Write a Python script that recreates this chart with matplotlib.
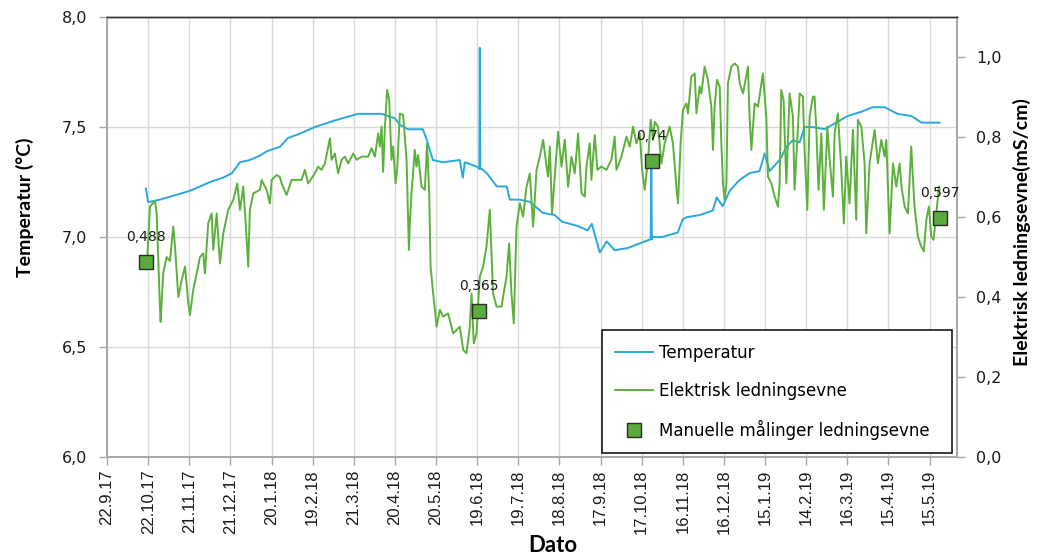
import matplotlib
matplotlib.use("Agg")
import matplotlib.pyplot as plt

# ---------------- data ----------------
# x positions = days after 22.9.2017
tick_labels = ["22.9.17", "22.10.17", "21.11.17", "21.12.17", "20.1.18", "19.2.18",
               "21.3.18", "20.4.18", "20.5.18", "19.6.18", "19.7.18", "18.8.18",
               "17.9.18", "17.10.18", "16.11.18", "16.12.18", "15.1.19", "14.2.19",
               "16.3.19", "15.4.19", "15.5.19"]
tick_days = [0, 30, 60, 90, 120, 150, 180, 210, 240, 270, 300, 330, 360, 390, 420,
             450, 480, 510, 540, 570, 600]

temp_days = [28.4, 29.9, 31.3, 38.6, 49.6, 60.5, 67.8, 75.1, 84.6, 91.1, 97.0, 104.2,
             111.5, 116.6, 126.1, 132.0, 140.7, 151.6, 166.2, 183.0, 191.7, 200.5,
             210.0, 213.6, 219.4, 230.4, 233.3, 237.7, 244.9, 257.3, 259.5, 261.0,
             269.7, 271.6, 271.9, 272.3, 273.4, 277.0, 284.3, 291.6, 293.8, 301.0,
             308.4, 317.8, 326.6, 331.7, 343.4, 350.6, 353.6, 359.4, 364.5, 370.3,
             379.8, 392.2, 396.6, 397.0, 397.4, 398.0, 404.6, 416.3, 419.9, 422.8,
             432.3, 441.8, 444.7, 449.1, 454.2, 461.5, 468.7, 476.0, 479.7, 483.3,
             490.6, 495.7, 500.1, 505.2, 508.8, 514.7, 523.4, 540.2, 550.4, 558.4,
             567.2, 576.6, 586.8, 594.1, 607.3]
temp_vals = [7.22, 7.16, 7.16, 7.17, 7.19, 7.21, 7.23, 7.25, 7.27, 7.29, 7.34, 7.35,
             7.37, 7.39, 7.41, 7.45, 7.47, 7.50, 7.53, 7.56, 7.56, 7.56,
             7.54, 7.51, 7.49, 7.49, 7.44, 7.35, 7.34, 7.35, 7.27, 7.34,
             7.32, 7.31, 7.86, 7.31, 7.31, 7.29, 7.23, 7.23, 7.17, 7.17,
             7.16, 7.11, 7.10, 7.07, 7.05, 7.03, 7.06, 6.93, 6.98, 6.94,
             6.95, 6.98, 6.99, 7.33, 6.99, 7.00, 7.00, 7.02, 7.08, 7.09,
             7.10, 7.12, 7.18, 7.14, 7.21, 7.26, 7.29, 7.30, 7.38, 7.30,
             7.35, 7.41, 7.44, 7.43, 7.50, 7.50, 7.49, 7.55, 7.57, 7.59,
             7.59, 7.56, 7.55, 7.52, 7.52]

cond_days = [29.4, 31.3, 35.0, 36.2, 38.6, 39.1, 41.0, 43.5, 45.9, 48.3, 49.6, 52.0,
             54.5, 56.9, 59.3, 60.5, 62.9, 65.4, 67.8, 70.2, 71.4, 73.8, 76.3, 77.5,
             80.0, 82.4, 84.8, 88.4, 92.1, 95.0, 97.0, 99.4, 101.3, 103.0, 104.2, 106.7,
             111.5, 112.8, 116.4, 118.8, 120.1, 123.7, 126.1, 127.4, 131.0, 134.6, 141.9,
             144.3, 146.7, 151.6, 154.0, 156.5, 158.9, 162.6, 163.8, 166.2, 168.6, 171.1,
             173.5, 175.9, 179.6, 182.0, 185.7, 190.5, 193.0, 195.4, 197.8, 199.0, 200.3,
             201.4, 202.7, 204.3, 205.8, 207.5, 208.7, 210.5, 211.6, 213.6, 216.0, 218.5,
             220.2, 220.9, 222.1, 224.5, 225.7, 226.9, 229.4, 231.8, 233.5, 235.0, 236.0,
             237.9, 240.4, 242.8, 245.2, 248.8, 252.5, 257.3, 259.8, 262.2, 264.6, 265.9,
             267.5, 269.5, 271.9, 274.3, 276.8, 279.2, 281.6, 284.1, 287.7, 291.4, 293.3,
             295.0, 296.7, 298.7, 301.1, 303.5, 306.0, 308.4, 310.8, 313.3, 315.7, 318.1,
             320.6, 321.7, 323.0, 324.6, 326.6, 329.0, 331.5, 333.9, 336.3, 338.8, 341.2,
             343.6, 346.1, 348.5, 349.7, 352.1, 353.3, 355.8, 357.7, 360.6, 364.3, 367.9,
             370.3, 371.6, 375.2, 378.9, 381.3, 383.7, 386.2, 388.6, 390.3, 392.2, 394.6,
             396.6, 398.3, 399.5, 401.9, 404.4, 406.8, 410.4, 412.8, 415.3, 416.5, 418.4,
             420.1, 422.6, 423.8, 426.2, 428.7, 429.9, 432.3, 433.5, 435.9, 438.3, 440.8,
             442.0, 443.2, 444.9, 446.9, 448.1, 449.3, 450.5, 451.8, 452.9, 455.4, 457.8,
             460.2, 461.5, 463.9, 467.5, 468.7, 470.0, 472.4, 474.8, 478.4, 480.9, 482.1,
             484.6, 487.0, 489.4, 490.6, 491.8, 493.5, 495.5, 497.9, 500.3, 501.5, 503.9,
             505.2, 507.6, 508.8, 510.8, 512.5, 514.9, 516.1, 517.4, 519.0, 521.0, 522.9,
             525.4, 527.1, 529.5, 530.7, 533.1, 535.6, 537.5, 539.2, 541.6, 544.1, 546.5,
             547.7, 550.2, 552.6, 553.8, 556.2, 559.9, 562.3, 564.8, 567.2, 568.4, 570.8,
             573.3, 575.7, 578.1, 579.8, 581.8, 584.2, 586.6, 589.0, 591.5, 593.9, 595.8,
             597.6, 599.5, 601.2, 602.9, 604.9, 606.8, 607.3]
cond_vals = [0.500, 0.626, 0.640, 0.610, 0.376, 0.338, 0.460, 0.500, 0.490, 0.576, 0.526, 0.400,
             0.443, 0.476, 0.384, 0.355, 0.418, 0.459, 0.500, 0.509, 0.459, 0.584, 0.609, 0.518,
             0.609, 0.484, 0.559, 0.618, 0.643, 0.684, 0.618, 0.676, 0.576, 0.476, 0.618, 0.659,
             0.668, 0.693, 0.668, 0.634, 0.693, 0.705, 0.700, 0.684, 0.655, 0.693, 0.693,
             0.718, 0.684, 0.709, 0.726, 0.718, 0.734, 0.797, 0.743, 0.759, 0.709, 0.743,
             0.751, 0.734, 0.759, 0.743, 0.751, 0.751, 0.772, 0.751, 0.809, 0.776, 0.826,
             0.713, 0.826, 0.918, 0.893, 0.743, 0.776, 0.684, 0.718, 0.859, 0.855, 0.743,
             0.518, 0.585, 0.660, 0.768, 0.726, 0.755, 0.676, 0.668, 0.784, 0.659, 0.476,
             0.409, 0.326, 0.368, 0.351, 0.359, 0.309, 0.326, 0.268, 0.259, 0.326, 0.409,
             0.284, 0.309, 0.451, 0.476, 0.526, 0.618, 0.409, 0.376, 0.376, 0.451, 0.534,
             0.409, 0.334, 0.576, 0.634, 0.601, 0.676, 0.709, 0.576, 0.718, 0.751, 0.793,
             0.726, 0.701, 0.776, 0.609, 0.701, 0.813, 0.726, 0.793, 0.676, 0.751, 0.709,
             0.809, 0.659, 0.651, 0.726, 0.784, 0.693, 0.805, 0.718, 0.726, 0.718, 0.743,
             0.801, 0.718, 0.751, 0.801, 0.776, 0.826, 0.784, 0.809, 0.718, 0.668, 0.743,
             0.843, 0.793, 0.838, 0.826, 0.734, 0.784, 0.826, 0.784, 0.676, 0.634, 0.784,
             0.868, 0.884, 0.859, 0.951, 0.959, 0.859, 0.926, 0.909, 0.976, 0.943, 0.876,
             0.768, 0.876, 0.943, 0.926, 0.784, 0.684, 0.643, 0.684, 0.934, 0.976, 0.984,
             0.976, 0.934, 0.909, 0.976, 0.851, 0.768, 0.884, 0.876, 0.959, 0.851, 0.701,
             0.684, 0.651, 0.626, 0.684, 0.918, 0.893, 0.684, 0.909, 0.851, 0.668, 0.818,
             0.909, 0.901, 0.768, 0.618, 0.851, 0.901, 0.901, 0.818, 0.668, 0.809, 0.618,
             0.826, 0.743, 0.651, 0.809, 0.859, 0.718, 0.584, 0.751, 0.634, 0.818, 0.593,
             0.843, 0.826, 0.734, 0.559, 0.734, 0.818, 0.734, 0.793, 0.751, 0.793, 0.559,
             0.734, 0.676, 0.734, 0.668, 0.626, 0.609, 0.776, 0.626, 0.551, 0.526, 0.514,
             0.593, 0.626, 0.551, 0.543, 0.609, 0.676, 0.668]

manual_days = [28.4, 271.2, 397.3, 607.3]
manual_vals = [0.488, 0.365, 0.74, 0.597]
manual_labels = ["0,488", "0,365", "0,74", "0,597"]

temp_ticks = [6.0, 6.5, 7.0, 7.5, 8.0]
temp_tick_labels = ["6,0", "6,5", "7,0", "7,5", "8,0"]
cond_ticks = [0.0, 0.2, 0.4, 0.6, 0.8, 1.0]
cond_tick_labels = ["0,0", "0,2", "0,4", "0,6", "0,8", "1,0"]

# ---------------- style ----------------
BLUE = "#29a8e0"
GREEN = "#5cb13c"
MARK = "#5aac3f"
GRID = "#d9d9d9"
SPINE = "#a6a6a6"
TITLE_FONT = ["Lato", "DejaVu Sans"]

fig = plt.figure(figsize=(10.4, 5.57), dpi=100)
ax = fig.add_axes([0.1029, 0.1795, 0.8173, 0.7899])
ax2 = ax.twinx()

ax.plot(temp_days, temp_vals, color=BLUE, lw=1.4, label="Temperatur", zorder=2)
ax2.plot(cond_days, cond_vals, color=GREEN, lw=1.4, label="Elektrisk ledningsevne", zorder=2)
ax2.plot(manual_days, manual_vals, ls="none", marker="s", markersize=9.5,
         markerfacecolor=MARK, markeredgecolor="#2b2b2b", markeredgewidth=1.0,
         label="Manuelle målinger ledningsevne", zorder=4)
for d, v, s in zip(manual_days, manual_vals, manual_labels):
    ax2.annotate(s, (d, v), xytext=(0, 13), textcoords="offset points",
                 ha="center", va="bottom", fontsize=10, color="#1a1a1a", zorder=5)

ax.set_xlim(0, 620)
ax.set_ylim(6.0, 8.0)
ax2.set_ylim(0.0, 1.1)

ax.set_xticks(tick_days)
ax.set_xticklabels(tick_labels, rotation=90, fontsize=12,
                   family=["Liberation Sans", "DejaVu Sans"])
ax.set_yticks(temp_ticks)
ax.set_yticklabels(temp_tick_labels, fontsize=11.5)
ax2.set_yticks(cond_ticks)
ax2.set_yticklabels(cond_tick_labels, fontsize=11.5)

ax.grid(True, color=GRID, lw=1.0)
ax.set_axisbelow(True)

for a in (ax, ax2):
    for side in ("left", "right", "bottom"):
        a.spines[side].set_color(SPINE)
        a.spines[side].set_linewidth(1.2)
    a.spines["top"].set_color("#333333")
    a.spines["top"].set_linewidth(1.0)
    a.tick_params(length=6, width=1, color=SPINE, colors="#1a1a1a")

ax.tick_params(axis="x", pad=3)
ax.tick_params(axis="y", pad=8)
ax2.tick_params(axis="y", pad=8)

ax.set_ylabel("Temperatur (°C)", fontsize=14, fontweight="bold", family=TITLE_FONT)
ax.yaxis.set_label_coords(-0.086, 0.568)
ax2.set_ylabel("Elektrisk ledningsevne(mS/cm)", fontsize=14, fontweight="bold",
               family=TITLE_FONT, rotation=90, va="center")
ax2.yaxis.set_label_coords(1.076, 0.511)
ax.set_xlabel("Dato", fontsize=16, fontweight="bold", family=TITLE_FONT, va="center")
ax.xaxis.set_label_coords(0.525, -0.200)

h1, l1 = ax.get_legend_handles_labels()
h2, l2 = ax2.get_legend_handles_labels()
leg = ax2.legend(h1 + h2, l1 + l2, loc="lower left",
                 bbox_to_anchor=(0.582, 0.009, 0.412, 0.27), mode="expand",
                 borderaxespad=0, fontsize=12, frameon=True, fancybox=False,
                 edgecolor="#1a1a1a", framealpha=1, handlelength=2.3,
                 labelspacing=1.2, borderpad=0.8, handletextpad=0.35)
leg.get_frame().set_linewidth(1.2)

fig.savefig("out.png", dpi=100)
